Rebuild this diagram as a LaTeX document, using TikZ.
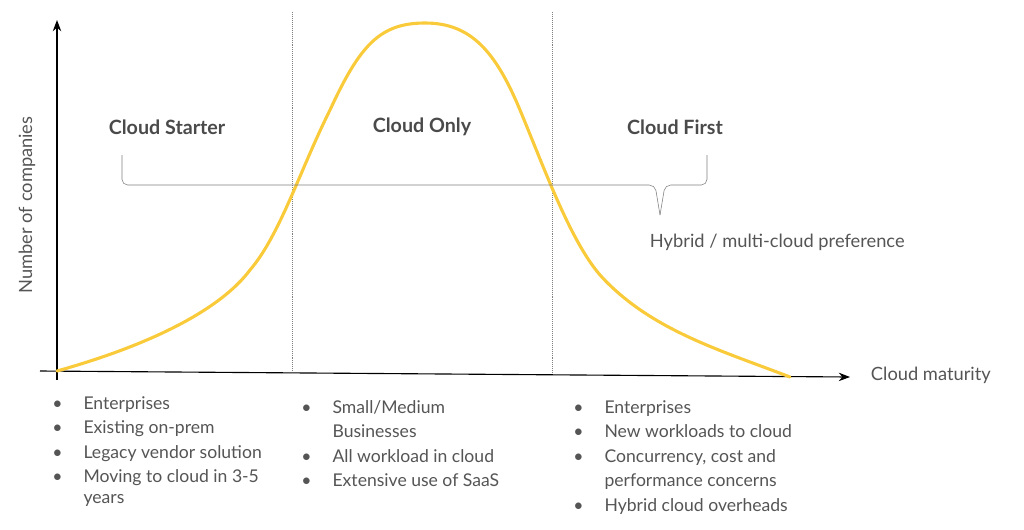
\documentclass[tikz,border=0pt]{standalone}
\usepackage{fontspec}
\setmainfont{Lato}
\usetikzlibrary{arrows.meta}
\definecolor{curveyellow}{HTML}{F9CB3A}
\definecolor{textgray}{HTML}{555555}
\definecolor{headgray}{HTML}{4A4A4A}
\tikzset{
    phase/.style={font=\fontsize{14}{16}\selectfont\bfseries, text=headgray},
    plain/.style={font=\fontsize{13}{15}\selectfont, text=textgray},
    bullets/.style={font=\fontsize{12.5}{17.5}\selectfont, text=textgray, anchor=north west, align=left, inner sep=0pt}
}
\newcommand{\bulletlist}[3]{
    \foreach \line[count=\i] in {#3}{
        \pgfmathsetmacro{\ypos}{#2+(\i-1)*24.5}
        \node[bullets] at (#1,\ypos) {\line};
    }
}
\begin{document}
\begin{tikzpicture}[x=0.025cm,y=-0.025cm]
\useasboundingbox (0,0) rectangle (1024,529);
% axes
\draw[-{Stealth[length=8pt]}, thick] (57,380) -- (57,20);
\draw[-{Stealth[length=8pt]}, thick] (40,371) -- (850,377);
% phase separators
\draw[gray, densely dotted, thin] (292,12) -- (292,372);
\draw[gray, densely dotted, thin] (552,12) -- (552,374);
% curve
\draw[curveyellow, line width=2.2pt, line cap=round]
    (57,371) .. controls (150,345) and (220,310) .. (250,270)
    .. controls (280,235) and (300,170) .. (330,110)
    .. controls (360,45) and (380,23) .. (425,23)
    .. controls (470,23) and (495,50) .. (520,110)
    .. controls (545,170) and (570,240) .. (600,275)
    .. controls (650,330) and (720,350) .. (790,377);
% brace
\draw[gray, thin, rounded corners=4pt]
    (122,155) -- (122,185) -- (655,185) -- (660,215);
\draw[gray, thin, rounded corners=4pt]
    (660,215) -- (665,185) -- (707,185) -- (707,155);
% labels
\node[phase] (starter) at (167,127) {Cloud Starter};
\node[phase] (only) at (422,127) {Cloud Only};
\node[phase] (first) at (675,127) {Cloud First};
\node[plain, anchor=west] (hybrid) at (645,242) {Hybrid / multi-cloud preference};
\node[plain, rotate=90] (ylabel) at (27,205) {Number of companies};
\node[plain, anchor=west] (xlabel) at (866,375) {Cloud maturity};
% bullet lists
\bulletlist{52}{396}{{•\hspace{1.2em}Enterprises},{•\hspace{1.2em}Existing on-prem},{•\hspace{1.2em}Legacy vendor solution},{•\hspace{1.2em}Moving to cloud in 3-5},{\phantom{•}\hspace{1.2em}years}}
\bulletlist{301}{400}{{•\hspace{1.2em}Small/Medium},{\phantom{•}\hspace{1.2em}Businesses},{•\hspace{1.2em}All workload in cloud},{•\hspace{1.2em}Extensive use of SaaS}}
\bulletlist{573}{400}{{•\hspace{1.2em}Enterprises},{•\hspace{1.2em}New workloads to cloud},{•\hspace{1.2em}Concurrency, cost and},{\phantom{•}\hspace{1.2em}performance concerns},{•\hspace{1.2em}Hybrid cloud overheads}}
\end{tikzpicture}
\end{document}
